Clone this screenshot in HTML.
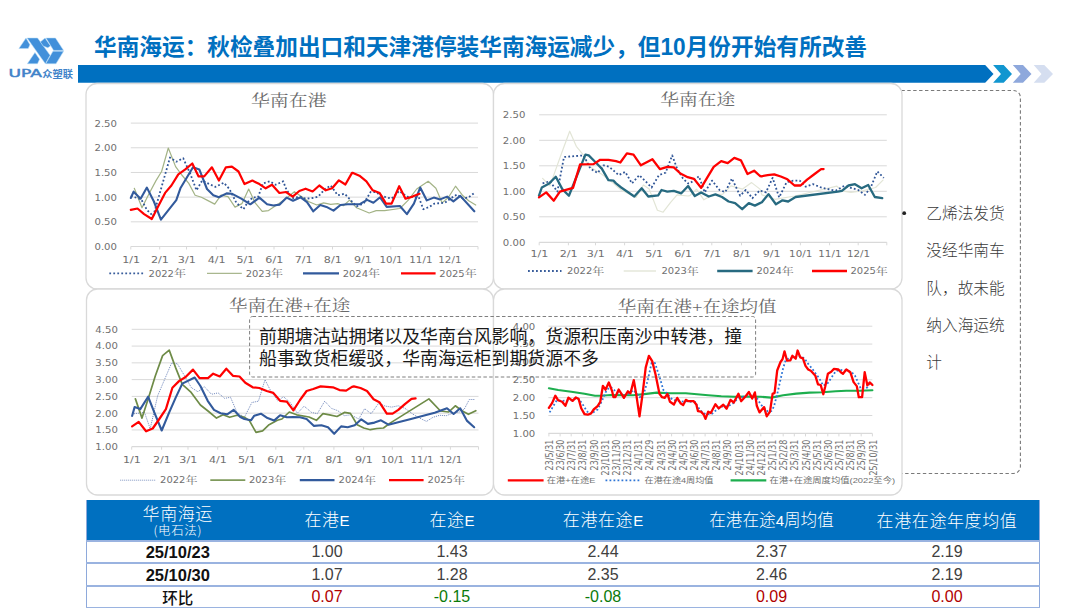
<!DOCTYPE html>
<html><head><meta charset="utf-8"><title>华南海运</title>
<style>
html,body{margin:0;padding:0;background:#fff}
body{width:1080px;height:608px;overflow:hidden;position:relative}
svg.main{position:absolute;left:0;top:0}
.t{position:absolute;left:86px;top:499.5px;width:952.5px;border-collapse:collapse;table-layout:fixed;font-family:'Liberation Sans','Noto Sans CJK SC',sans-serif;color:#404040;font-size:16px;text-align:center}
.t td{padding:0;height:20.9px;line-height:20px;border-bottom:2px solid #9AB3E0}
.t tr.h td{background:#0070C0;color:#fff;height:40px;border-bottom:2px solid #9AB3E0;font-family:'Noto Sans CJK SC',sans-serif;font-weight:300;font-size:17px;line-height:20px;letter-spacing:0.6px}
.t tr.h td .e{font-family:'Liberation Sans',sans-serif;font-size:15px;letter-spacing:0}
.t tr.h td.m4{letter-spacing:0;font-size:16.6px}
.t tr.h td .n{font-family:'Liberation Sans',sans-serif;font-size:15px;letter-spacing:0}
.t .h1{font-size:17px;line-height:18px;padding-top:1px}
.t .h2{font-size:12.5px;line-height:15px}
.t td.d{font-weight:bold;color:#111;font-size:16.5px}
.t tr.r3 td.d{font-family:'Noto Sans CJK SC',sans-serif;font-size:15.5px;font-weight:500}
.t tr.r3 td{height:19.9px}
.t td.r{color:#B00000}
.t td.g{color:#0A7A0A}
.t tr td:first-child{border-left:1.5px solid #8EA9DB}
.t tr td:last-child{border-right:1.5px solid #8EA9DB}
</style></head><body>
<svg class="main" width="1080" height="608" viewBox="0 0 1080 608">
<g transform="translate(16,34) scale(0.05263)"><polygon points="55,275 190,78 265,205 232,275" fill="#4290DA" stroke="#B8DDF7" stroke-width="10" stroke-linejoin="round"/><polygon points="210,76 410,76 648,405 558,565" fill="#4290DA" stroke="#B8DDF7" stroke-width="10" stroke-linejoin="round"/><polygon points="215,565 360,352 448,478 408,565" fill="#4290DA" stroke="#B8DDF7" stroke-width="10" stroke-linejoin="round"/><polygon points="462,150 552,78 655,226 605,262 519,230" fill="#4290DA" stroke="#B8DDF7" stroke-width="10" stroke-linejoin="round"/><polygon points="570,76 750,76 905,312 715,312" fill="#4290DA" stroke="#B8DDF7" stroke-width="10" stroke-linejoin="round"/><polygon points="565,565 702,328 905,328 760,565" fill="#4290DA" stroke="#B8DDF7" stroke-width="10" stroke-linejoin="round"/></g>
<text x="8.4" y="77.3" font-family="'DejaVu Sans',sans-serif" font-size="11" fill="#3F83C9" stroke="#3F83C9" stroke-width="0.45" textLength="33.5" lengthAdjust="spacingAndGlyphs">UPA</text>
<text x="42.3" y="77.6" font-family="'Noto Sans CJK SC',sans-serif" font-size="9.8" font-weight="bold" fill="#3F83C9" textLength="30.8" lengthAdjust="spacingAndGlyphs">众塑联</text>
<text x="94" y="54.5" font-family="'Liberation Sans','Noto Sans CJK SC',sans-serif" font-size="23" font-weight="bold" fill="#0070C0" textLength="773" lengthAdjust="spacingAndGlyphs">华南海运：秋检叠加出口和天津港停装华南海运减少，但10月份开始有所改善</text>
<polygon points="78,65 985.2,65 993.5,73.9 985.2,82.8 78,82.8" fill="#0070C0"/>
<polygon points="993.1,65 1003.7,65 1012,73.9 1003.7,82.8 993.1,82.8 1001,73.9" fill="#1196D0"/>
<polygon points="1012.8,65 1023,65 1031.5,73.9 1023,82.8 1012.8,82.8 1020.7,73.9" fill="#8EA8DC"/>
<polygon points="1033.7,65 1044.3,65 1053,73.9 1044.3,82.8 1033.7,82.8 1041.5,73.9" fill="#D5DEF0"/>
<rect x="800" y="90.5" width="220.4" height="383" rx="7" fill="none" stroke="#7A7A7A" stroke-width="1.1" stroke-dasharray="3.4,2.5"/>
<rect x="86.0" y="83.5" width="407.5" height="205.5" rx="11" fill="#fff" stroke="#D9D9D9" stroke-width="1.3"/>
<rect x="493.5" y="83.5" width="408.5" height="205.5" rx="11" fill="#fff" stroke="#D9D9D9" stroke-width="1.3"/>
<rect x="86.5" y="289.0" width="407.0" height="206.0" rx="11" fill="#fff" stroke="#D9D9D9" stroke-width="1.3"/>
<rect x="493.5" y="289.0" width="408.5" height="206.0" rx="11" fill="#fff" stroke="#D9D9D9" stroke-width="1.3"/>
<line x1="130.8" y1="221.82" x2="478.0" y2="221.82" stroke="#D9D9D9" stroke-width="1"/>
<line x1="130.8" y1="197.14" x2="478.0" y2="197.14" stroke="#D9D9D9" stroke-width="1"/>
<line x1="130.8" y1="172.46" x2="478.0" y2="172.46" stroke="#D9D9D9" stroke-width="1"/>
<line x1="130.8" y1="147.78" x2="478.0" y2="147.78" stroke="#D9D9D9" stroke-width="1"/>
<line x1="130.8" y1="123.10" x2="478.0" y2="123.10" stroke="#D9D9D9" stroke-width="1"/>
<line x1="130.8" y1="246.50" x2="478.0" y2="246.50" stroke="#D9D9D9" stroke-width="1.2"/>
<line x1="130.8" y1="246.50" x2="130.8" y2="249.50" stroke="#D9D9D9" stroke-width="1"/>
<line x1="159.7" y1="246.50" x2="159.7" y2="249.50" stroke="#D9D9D9" stroke-width="1"/>
<line x1="186.5" y1="246.50" x2="186.5" y2="249.50" stroke="#D9D9D9" stroke-width="1"/>
<line x1="216.3" y1="246.50" x2="216.3" y2="249.50" stroke="#D9D9D9" stroke-width="1"/>
<line x1="245.2" y1="246.50" x2="245.2" y2="249.50" stroke="#D9D9D9" stroke-width="1"/>
<line x1="274.0" y1="246.50" x2="274.0" y2="249.50" stroke="#D9D9D9" stroke-width="1"/>
<line x1="303.3" y1="246.50" x2="303.3" y2="249.50" stroke="#D9D9D9" stroke-width="1"/>
<line x1="332.5" y1="246.50" x2="332.5" y2="249.50" stroke="#D9D9D9" stroke-width="1"/>
<line x1="362.6" y1="246.50" x2="362.6" y2="249.50" stroke="#D9D9D9" stroke-width="1"/>
<line x1="390.8" y1="246.50" x2="390.8" y2="249.50" stroke="#D9D9D9" stroke-width="1"/>
<line x1="420.6" y1="246.50" x2="420.6" y2="249.50" stroke="#D9D9D9" stroke-width="1"/>
<line x1="449.6" y1="246.50" x2="449.6" y2="249.50" stroke="#D9D9D9" stroke-width="1"/>
<line x1="478.0" y1="246.50" x2="478.0" y2="249.50" stroke="#D9D9D9" stroke-width="1"/>
<text transform="translate(117.00,249.90) scale(1.090,1.000)" font-family="'DejaVu Sans','Noto Serif CJK SC',sans-serif" font-size="9.3" fill="#707070" text-anchor="end">0.00</text>
<text transform="translate(117.00,225.22) scale(1.090,1.000)" font-family="'DejaVu Sans','Noto Serif CJK SC',sans-serif" font-size="9.3" fill="#707070" text-anchor="end">0.50</text>
<text transform="translate(117.00,200.54) scale(1.090,1.000)" font-family="'DejaVu Sans','Noto Serif CJK SC',sans-serif" font-size="9.3" fill="#707070" text-anchor="end">1.00</text>
<text transform="translate(117.00,175.86) scale(1.090,1.000)" font-family="'DejaVu Sans','Noto Serif CJK SC',sans-serif" font-size="9.3" fill="#707070" text-anchor="end">1.50</text>
<text transform="translate(117.00,151.18) scale(1.090,1.000)" font-family="'DejaVu Sans','Noto Serif CJK SC',sans-serif" font-size="9.3" fill="#707070" text-anchor="end">2.00</text>
<text transform="translate(117.00,126.50) scale(1.090,1.000)" font-family="'DejaVu Sans','Noto Serif CJK SC',sans-serif" font-size="9.3" fill="#707070" text-anchor="end">2.50</text>
<text x="131.10" y="262.60" font-family="'DejaVu Sans','Noto Serif CJK SC',sans-serif" font-size="9.3" fill="#707070" text-anchor="middle" textLength="17.9" lengthAdjust="spacingAndGlyphs">1/1</text>
<text x="160.00" y="262.60" font-family="'DejaVu Sans','Noto Serif CJK SC',sans-serif" font-size="9.3" fill="#707070" text-anchor="middle" textLength="17.9" lengthAdjust="spacingAndGlyphs">2/1</text>
<text x="186.80" y="262.60" font-family="'DejaVu Sans','Noto Serif CJK SC',sans-serif" font-size="9.3" fill="#707070" text-anchor="middle" textLength="17.9" lengthAdjust="spacingAndGlyphs">3/1</text>
<text x="216.60" y="262.60" font-family="'DejaVu Sans','Noto Serif CJK SC',sans-serif" font-size="9.3" fill="#707070" text-anchor="middle" textLength="17.9" lengthAdjust="spacingAndGlyphs">4/1</text>
<text x="245.50" y="262.60" font-family="'DejaVu Sans','Noto Serif CJK SC',sans-serif" font-size="9.3" fill="#707070" text-anchor="middle" textLength="17.9" lengthAdjust="spacingAndGlyphs">5/1</text>
<text x="274.30" y="262.60" font-family="'DejaVu Sans','Noto Serif CJK SC',sans-serif" font-size="9.3" fill="#707070" text-anchor="middle" textLength="17.9" lengthAdjust="spacingAndGlyphs">6/1</text>
<text x="303.60" y="262.60" font-family="'DejaVu Sans','Noto Serif CJK SC',sans-serif" font-size="9.3" fill="#707070" text-anchor="middle" textLength="17.9" lengthAdjust="spacingAndGlyphs">7/1</text>
<text x="332.80" y="262.60" font-family="'DejaVu Sans','Noto Serif CJK SC',sans-serif" font-size="9.3" fill="#707070" text-anchor="middle" textLength="17.9" lengthAdjust="spacingAndGlyphs">8/1</text>
<text x="362.90" y="262.60" font-family="'DejaVu Sans','Noto Serif CJK SC',sans-serif" font-size="9.3" fill="#707070" text-anchor="middle" textLength="17.9" lengthAdjust="spacingAndGlyphs">9/1</text>
<text x="391.10" y="262.60" font-family="'DejaVu Sans','Noto Serif CJK SC',sans-serif" font-size="9.3" fill="#707070" text-anchor="middle" textLength="23.2" lengthAdjust="spacingAndGlyphs">10/1</text>
<text x="420.90" y="262.60" font-family="'DejaVu Sans','Noto Serif CJK SC',sans-serif" font-size="9.3" fill="#707070" text-anchor="middle" textLength="23.2" lengthAdjust="spacingAndGlyphs">11/1</text>
<text x="449.90" y="262.60" font-family="'DejaVu Sans','Noto Serif CJK SC',sans-serif" font-size="9.3" fill="#707070" text-anchor="middle" textLength="23.2" lengthAdjust="spacingAndGlyphs">12/1</text>
<text x="250.90" y="106.00" font-family="'Liberation Serif','Noto Serif CJK SC',serif" font-size="15.5" fill="#6A6A6A" textLength="75.7" lengthAdjust="spacingAndGlyphs">华南在港</text>
<line x1="109.3" y1="273.4" x2="143.6" y2="273.4" stroke="#3A5E9C" stroke-width="1.8" stroke-dasharray="1.8,2.2"/>
<text transform="translate(148.60,276.50) scale(1.16,1)" font-family="'DejaVu Sans','Noto Serif CJK SC',sans-serif" font-size="8.6" fill="#707070">2022<tspan font-family="'Liberation Serif','Noto Serif CJK SC',serif" font-size="10.4" dy="0.6">年</tspan></text>
<line x1="207.0" y1="273.4" x2="241.8" y2="273.4" stroke="#A9B78E" stroke-width="1.3"/>
<text transform="translate(245.70,276.50) scale(1.16,1)" font-family="'DejaVu Sans','Noto Serif CJK SC',sans-serif" font-size="8.6" fill="#707070">2023<tspan font-family="'Liberation Serif','Noto Serif CJK SC',serif" font-size="10.4" dy="0.6">年</tspan></text>
<line x1="303.0" y1="273.4" x2="339.0" y2="273.4" stroke="#325A9C" stroke-width="2.3"/>
<text transform="translate(342.70,276.50) scale(1.16,1)" font-family="'DejaVu Sans','Noto Serif CJK SC',sans-serif" font-size="8.6" fill="#707070">2024<tspan font-family="'Liberation Serif','Noto Serif CJK SC',serif" font-size="10.4" dy="0.6">年</tspan></text>
<line x1="401.0" y1="273.4" x2="435.6" y2="273.4" stroke="#FF0000" stroke-width="2.3"/>
<text transform="translate(439.30,276.50) scale(1.16,1)" font-family="'DejaVu Sans','Noto Serif CJK SC',sans-serif" font-size="8.6" fill="#707070">2025<tspan font-family="'Liberation Serif','Noto Serif CJK SC',serif" font-size="10.4" dy="0.6">年</tspan></text>
<polyline points="134.3,188.3 142.0,207.8 149.0,193.8 156.0,180.6 161.6,171.5 168.3,148.0 175.6,166.6 181.8,175.0 188.8,183.4 195.1,195.2 201.4,197.3 207.0,200.1 214.7,204.1 221.0,195.2 228.0,196.6 235.0,207.1 242.0,203.6 248.7,189.0 255.2,202.9 262.2,211.3 268.5,210.6 279.0,203.6 286.7,198.0 294.4,191.7 301.4,196.6 308.4,201.5 316.8,205.0 323.7,202.9 330.7,204.3 337.7,203.6 343.3,205.7 349.6,200.1 356.6,207.8 369.2,213.0 376.2,210.6 384.6,210.6 399.9,208.5 408.3,200.1 416.7,189.0 428.2,181.3 435.9,188.3 442.2,202.9 448.5,197.3 455.5,186.2 462.4,195.2 468.7,200.8 475.7,205.0" fill="none" stroke="#A3B386" stroke-width="1.2" stroke-linejoin="round" stroke-linecap="round"/>
<polyline points="130.8,195.9 141.3,199.4 146.9,209.9 153.2,216.2 170.0,157.5 176.3,161.7 183.2,158.2 190.2,173.6 196.5,190.3 202.1,180.6 215.4,186.9 223.8,182.7 229.4,189.0 236.4,202.9 243.4,209.2 248.3,201.5 253.1,197.3 258.0,197.3 262.9,183.4 269.9,181.3 275.5,184.8 283.2,181.3 286.7,190.3 293.0,198.0 300.0,196.6 305.6,198.7 312.6,198.0 318.2,196.6 325.1,189.0 330.7,185.5 337.7,195.2 344.7,193.8 356.6,206.4 363.6,203.6 370.6,192.0 375.5,192.0 380.4,195.2 386.0,197.3 391.6,198.7 399.2,191.0 406.9,196.6 413.9,197.3 418.8,197.3 423.3,209.2 428.9,207.1 434.5,203.6 439.4,203.2 445.0,202.7 450.6,198.5 456.9,194.5 463.1,198.7 468.7,197.3 475.0,192.4" fill="none" stroke="#2F5597" stroke-width="1.8" stroke-linejoin="round" stroke-linecap="butt" stroke-dasharray="1.8,2.2"/>
<polyline points="130.8,198.0 133.6,191.7 140.6,198.7 146.9,187.6 153.9,201.5 160.9,219.7 168.6,209.9 176.3,200.1 180.4,188.3 186.7,177.8 193.0,167.3 199.3,169.4 207.0,189.0 213.3,195.2 218.9,197.3 226.6,193.4 232.2,193.8 241.3,198.7 250.3,204.3 259.4,197.6 267.1,204.3 273.4,205.5 279.7,204.6 286.7,197.6 293.0,200.8 300.7,197.3 307.0,202.2 313.3,211.3 320.3,205.0 326.5,206.9 333.5,210.6 340.5,205.0 347.5,204.3 359.4,204.3 367.1,199.9 373.4,202.7 380.1,197.3 386.7,206.9 399.9,206.0 406.9,214.1 413.9,203.6 420.2,187.6 426.8,200.4 433.8,197.6 440.1,199.4 447.1,196.6 453.4,201.3 460.3,195.9 474.3,211.3" fill="none" stroke="#325A9C" stroke-width="2.1" stroke-linejoin="round" stroke-linecap="round"/>
<polyline points="130.8,209.9 137.5,208.5 144.1,214.1 151.8,219.0 158.1,206.4 165.1,192.9 171.4,185.5 178.3,174.3 185.3,169.4 192.3,163.5 198.6,176.4 204.2,176.4 211.9,167.3 218.9,180.6 225.9,167.3 231.9,166.6 238.5,171.5 244.5,184.1 252.4,180.6 259.4,184.1 265.7,188.3 272.0,184.8 279.4,193.0 286.0,192.0 292.7,196.6 299.3,191.0 305.6,188.7 312.6,191.5 319.3,185.5 325.8,190.3 332.1,188.3 338.9,180.3 345.4,184.5 352.0,172.9 353.1,172.9 359.4,175.7 366.4,181.3 372.7,190.3 379.7,193.1 386.0,203.6 391.6,203.6 399.2,186.2 405.5,198.7 412.5,196.6 419.5,193.8" fill="none" stroke="#FF0000" stroke-width="2.2" stroke-linejoin="round" stroke-linecap="round"/>
<line x1="539.2" y1="216.80" x2="886.8" y2="216.80" stroke="#D9D9D9" stroke-width="1"/>
<line x1="539.2" y1="191.30" x2="886.8" y2="191.30" stroke="#D9D9D9" stroke-width="1"/>
<line x1="539.2" y1="165.80" x2="886.8" y2="165.80" stroke="#D9D9D9" stroke-width="1"/>
<line x1="539.2" y1="140.30" x2="886.8" y2="140.30" stroke="#D9D9D9" stroke-width="1"/>
<line x1="539.2" y1="114.80" x2="886.8" y2="114.80" stroke="#D9D9D9" stroke-width="1"/>
<line x1="539.2" y1="242.30" x2="886.8" y2="242.30" stroke="#D9D9D9" stroke-width="1.2"/>
<line x1="539.2" y1="242.30" x2="539.2" y2="245.30" stroke="#D9D9D9" stroke-width="1"/>
<line x1="568.4" y1="242.30" x2="568.4" y2="245.30" stroke="#D9D9D9" stroke-width="1"/>
<line x1="595.5" y1="242.30" x2="595.5" y2="245.30" stroke="#D9D9D9" stroke-width="1"/>
<line x1="624.6" y1="242.30" x2="624.6" y2="245.30" stroke="#D9D9D9" stroke-width="1"/>
<line x1="653.8" y1="242.30" x2="653.8" y2="245.30" stroke="#D9D9D9" stroke-width="1"/>
<line x1="682.8" y1="242.30" x2="682.8" y2="245.30" stroke="#D9D9D9" stroke-width="1"/>
<line x1="711.8" y1="242.30" x2="711.8" y2="245.30" stroke="#D9D9D9" stroke-width="1"/>
<line x1="741.5" y1="242.30" x2="741.5" y2="245.30" stroke="#D9D9D9" stroke-width="1"/>
<line x1="771.3" y1="242.30" x2="771.3" y2="245.30" stroke="#D9D9D9" stroke-width="1"/>
<line x1="800.4" y1="242.30" x2="800.4" y2="245.30" stroke="#D9D9D9" stroke-width="1"/>
<line x1="829.6" y1="242.30" x2="829.6" y2="245.30" stroke="#D9D9D9" stroke-width="1"/>
<line x1="858.2" y1="242.30" x2="858.2" y2="245.30" stroke="#D9D9D9" stroke-width="1"/>
<line x1="886.8" y1="242.30" x2="886.8" y2="245.30" stroke="#D9D9D9" stroke-width="1"/>
<text transform="translate(525.40,245.70) scale(1.090,1.000)" font-family="'DejaVu Sans','Noto Serif CJK SC',sans-serif" font-size="9.3" fill="#707070" text-anchor="end">0.00</text>
<text transform="translate(525.40,220.20) scale(1.090,1.000)" font-family="'DejaVu Sans','Noto Serif CJK SC',sans-serif" font-size="9.3" fill="#707070" text-anchor="end">0.50</text>
<text transform="translate(525.40,194.70) scale(1.090,1.000)" font-family="'DejaVu Sans','Noto Serif CJK SC',sans-serif" font-size="9.3" fill="#707070" text-anchor="end">1.00</text>
<text transform="translate(525.40,169.20) scale(1.090,1.000)" font-family="'DejaVu Sans','Noto Serif CJK SC',sans-serif" font-size="9.3" fill="#707070" text-anchor="end">1.50</text>
<text transform="translate(525.40,143.70) scale(1.090,1.000)" font-family="'DejaVu Sans','Noto Serif CJK SC',sans-serif" font-size="9.3" fill="#707070" text-anchor="end">2.00</text>
<text transform="translate(525.40,118.20) scale(1.090,1.000)" font-family="'DejaVu Sans','Noto Serif CJK SC',sans-serif" font-size="9.3" fill="#707070" text-anchor="end">2.50</text>
<text x="539.50" y="257.40" font-family="'DejaVu Sans','Noto Serif CJK SC',sans-serif" font-size="9.3" fill="#707070" text-anchor="middle" textLength="17.9" lengthAdjust="spacingAndGlyphs">1/1</text>
<text x="568.70" y="257.40" font-family="'DejaVu Sans','Noto Serif CJK SC',sans-serif" font-size="9.3" fill="#707070" text-anchor="middle" textLength="17.9" lengthAdjust="spacingAndGlyphs">2/1</text>
<text x="595.80" y="257.40" font-family="'DejaVu Sans','Noto Serif CJK SC',sans-serif" font-size="9.3" fill="#707070" text-anchor="middle" textLength="17.9" lengthAdjust="spacingAndGlyphs">3/1</text>
<text x="624.90" y="257.40" font-family="'DejaVu Sans','Noto Serif CJK SC',sans-serif" font-size="9.3" fill="#707070" text-anchor="middle" textLength="17.9" lengthAdjust="spacingAndGlyphs">4/1</text>
<text x="654.10" y="257.40" font-family="'DejaVu Sans','Noto Serif CJK SC',sans-serif" font-size="9.3" fill="#707070" text-anchor="middle" textLength="17.9" lengthAdjust="spacingAndGlyphs">5/1</text>
<text x="683.10" y="257.40" font-family="'DejaVu Sans','Noto Serif CJK SC',sans-serif" font-size="9.3" fill="#707070" text-anchor="middle" textLength="17.9" lengthAdjust="spacingAndGlyphs">6/1</text>
<text x="712.10" y="257.40" font-family="'DejaVu Sans','Noto Serif CJK SC',sans-serif" font-size="9.3" fill="#707070" text-anchor="middle" textLength="17.9" lengthAdjust="spacingAndGlyphs">7/1</text>
<text x="741.80" y="257.40" font-family="'DejaVu Sans','Noto Serif CJK SC',sans-serif" font-size="9.3" fill="#707070" text-anchor="middle" textLength="17.9" lengthAdjust="spacingAndGlyphs">8/1</text>
<text x="771.60" y="257.40" font-family="'DejaVu Sans','Noto Serif CJK SC',sans-serif" font-size="9.3" fill="#707070" text-anchor="middle" textLength="17.9" lengthAdjust="spacingAndGlyphs">9/1</text>
<text x="800.70" y="257.40" font-family="'DejaVu Sans','Noto Serif CJK SC',sans-serif" font-size="9.3" fill="#707070" text-anchor="middle" textLength="23.2" lengthAdjust="spacingAndGlyphs">10/1</text>
<text x="829.90" y="257.40" font-family="'DejaVu Sans','Noto Serif CJK SC',sans-serif" font-size="9.3" fill="#707070" text-anchor="middle" textLength="23.2" lengthAdjust="spacingAndGlyphs">11/1</text>
<text x="858.50" y="257.40" font-family="'DejaVu Sans','Noto Serif CJK SC',sans-serif" font-size="9.3" fill="#707070" text-anchor="middle" textLength="23.2" lengthAdjust="spacingAndGlyphs">12/1</text>
<text x="660.30" y="105.20" font-family="'Liberation Serif','Noto Serif CJK SC',serif" font-size="15.5" fill="#6A6A6A" textLength="74.9" lengthAdjust="spacingAndGlyphs">华南在途</text>
<line x1="528.0" y1="271.0" x2="561.5" y2="271.0" stroke="#3A5E9C" stroke-width="1.8" stroke-dasharray="1.8,2.2"/>
<text transform="translate(566.90,274.10) scale(1.16,1)" font-family="'DejaVu Sans','Noto Serif CJK SC',sans-serif" font-size="8.6" fill="#707070">2022<tspan font-family="'Liberation Serif','Noto Serif CJK SC',serif" font-size="10.4" dy="0.6">年</tspan></text>
<line x1="623.7" y1="271.0" x2="656.0" y2="271.0" stroke="#E4E7DA" stroke-width="1.3"/>
<text transform="translate(661.50,274.10) scale(1.16,1)" font-family="'DejaVu Sans','Noto Serif CJK SC',sans-serif" font-size="8.6" fill="#707070">2023<tspan font-family="'Liberation Serif','Noto Serif CJK SC',serif" font-size="10.4" dy="0.6">年</tspan></text>
<line x1="717.2" y1="271.0" x2="752.6" y2="271.0" stroke="#276A80" stroke-width="2.3"/>
<text transform="translate(756.50,274.10) scale(1.16,1)" font-family="'DejaVu Sans','Noto Serif CJK SC',sans-serif" font-size="8.6" fill="#707070">2024<tspan font-family="'Liberation Serif','Noto Serif CJK SC',serif" font-size="10.4" dy="0.6">年</tspan></text>
<line x1="812.0" y1="271.0" x2="847.0" y2="271.0" stroke="#FF0000" stroke-width="2.3"/>
<text transform="translate(850.50,274.10) scale(1.16,1)" font-family="'DejaVu Sans','Noto Serif CJK SC',sans-serif" font-size="8.6" fill="#707070">2025<tspan font-family="'Liberation Serif','Noto Serif CJK SC',serif" font-size="10.4" dy="0.6">年</tspan></text>
<polyline points="542.6,178.4 550.0,185.8 555.8,169.4 562.3,151.3 569.7,131.2 576.3,146.3 583.7,155.4 588.7,166.1 601.8,174.3 613.4,183.4 621.2,190.0 636.0,197.4 643.4,185.0 649.2,189.1 657.4,210.2 663.1,212.2 670.6,202.3 677.1,194.9 688.0,196.0 689.9,195.7 696.5,189.1 703.9,199.8 712.1,194.9 722.8,194.1 731.0,185.8 742.6,189.1 751.6,182.6 760.0,189.1 761.9,194.9 775.0,199.3 794.8,196.0 836.9,186.2 841.9,190.8 850.9,192.4 862.4,190.8 875.6,187.5 883.0,180.1" fill="none" stroke="#E2E5D6" stroke-width="1.2" stroke-linejoin="round" stroke-linecap="round"/>
<polyline points="542.6,183.4 550.0,181.2 557.4,191.6 564.0,157.0 583.7,155.4 590.3,168.6 597.7,173.0 603.5,165.3 609.3,166.9 616.0,172.7 618.7,175.1 625.3,171.9 631.9,183.4 639.3,175.1 645.9,181.7 651.6,187.5 659.0,175.1 665.6,172.7 672.2,155.4 677.1,168.6 682.9,178.4 688.0,183.4 689.9,183.4 698.9,176.3 704.7,192.4 712.1,180.6 719.5,190.0 725.3,192.1 731.9,178.4 740.1,195.7 745.8,190.0 752.4,198.2 759.7,190.4 766.0,192.4 772.6,177.9 779.2,197.4 786.6,182.2 793.2,180.6 799.7,180.6 805.5,186.7 812.9,184.2 821.1,187.5 832.0,190.0 836.1,190.5 844.3,185.8 850.9,187.8 858.3,190.0 864.9,194.9 870.7,187.5 877.3,171.4 883.8,177.9" fill="none" stroke="#2F5597" stroke-width="1.8" stroke-linejoin="round" stroke-linecap="butt" stroke-dasharray="1.8,2.2"/>
<polyline points="539.0,195.7 541.8,187.5 549.2,183.4 555.8,176.8 562.3,189.1 568.9,195.7 585.4,154.6 588.7,155.4 595.3,162.0 601.8,168.6 608.4,180.1 613.4,180.6 616.0,183.4 621.2,187.5 634.3,196.5 641.7,188.3 648.3,196.5 658.2,195.4 661.5,190.0 667.3,191.6 673.8,190.8 681.3,193.3 688.1,186.0 694.8,196.0 701.1,192.4 708.8,196.5 715.4,194.4 722.0,197.0 728.6,201.5 735.1,203.1 742.2,209.2 748.8,203.1 754.9,205.6 760.0,203.1 761.9,202.3 768.5,194.1 775.9,204.3 782.5,200.3 788.2,201.5 795.6,197.0 837.8,191.6 841.9,190.8 848.5,185.5 855.0,184.2 861.6,188.3 868.2,185.0 874.8,197.0 882.2,198.2" fill="none" stroke="#276A80" stroke-width="2.3" stroke-linejoin="round" stroke-linecap="round"/>
<polyline points="539.0,197.4 546.2,192.4 553.8,200.7 559.9,191.6 573.0,187.8 580.1,164.4 593.6,164.1 600.2,159.8 608.4,159.8 616.0,161.2 620.3,162.5 626.9,153.3 633.5,154.6 640.9,165.3 652.4,159.2 659.9,169.1 667.3,166.9 673.8,167.4 680.4,173.5 687.7,177.2 694.0,178.9 701.1,187.8 707.2,177.6 713.7,166.9 721.2,161.2 727.7,163.1 734.3,157.9 740.9,160.3 747.5,174.0 754.1,170.7 760.0,176.0 761.5,176.3 767.6,175.1 774.2,174.3 780.8,176.5 787.4,179.3 794.5,185.5 800.6,185.5 807.1,179.6 814.6,174.0 821.1,169.1 823.6,169.1" fill="none" stroke="#FF0000" stroke-width="2.3" stroke-linejoin="round" stroke-linecap="round"/>
<line x1="131.7" y1="429.93" x2="478.5" y2="429.93" stroke="#D9D9D9" stroke-width="1"/>
<line x1="131.7" y1="413.16" x2="478.5" y2="413.16" stroke="#D9D9D9" stroke-width="1"/>
<line x1="131.7" y1="396.39" x2="478.5" y2="396.39" stroke="#D9D9D9" stroke-width="1"/>
<line x1="131.7" y1="379.62" x2="478.5" y2="379.62" stroke="#D9D9D9" stroke-width="1"/>
<line x1="131.7" y1="362.85" x2="478.5" y2="362.85" stroke="#D9D9D9" stroke-width="1"/>
<line x1="131.7" y1="346.08" x2="478.5" y2="346.08" stroke="#D9D9D9" stroke-width="1"/>
<line x1="131.7" y1="329.31" x2="478.5" y2="329.31" stroke="#D9D9D9" stroke-width="1"/>
<line x1="131.7" y1="446.70" x2="478.5" y2="446.70" stroke="#D9D9D9" stroke-width="1.2"/>
<line x1="131.7" y1="446.70" x2="131.7" y2="449.70" stroke="#D9D9D9" stroke-width="1"/>
<line x1="161.6" y1="446.70" x2="161.6" y2="449.70" stroke="#D9D9D9" stroke-width="1"/>
<line x1="188.0" y1="446.70" x2="188.0" y2="449.70" stroke="#D9D9D9" stroke-width="1"/>
<line x1="217.7" y1="446.70" x2="217.7" y2="449.70" stroke="#D9D9D9" stroke-width="1"/>
<line x1="246.6" y1="446.70" x2="246.6" y2="449.70" stroke="#D9D9D9" stroke-width="1"/>
<line x1="275.8" y1="446.70" x2="275.8" y2="449.70" stroke="#D9D9D9" stroke-width="1"/>
<line x1="303.8" y1="446.70" x2="303.8" y2="449.70" stroke="#D9D9D9" stroke-width="1"/>
<line x1="333.9" y1="446.70" x2="333.9" y2="449.70" stroke="#D9D9D9" stroke-width="1"/>
<line x1="363.6" y1="446.70" x2="363.6" y2="449.70" stroke="#D9D9D9" stroke-width="1"/>
<line x1="392.3" y1="446.70" x2="392.3" y2="449.70" stroke="#D9D9D9" stroke-width="1"/>
<line x1="421.7" y1="446.70" x2="421.7" y2="449.70" stroke="#D9D9D9" stroke-width="1"/>
<line x1="450.4" y1="446.70" x2="450.4" y2="449.70" stroke="#D9D9D9" stroke-width="1"/>
<line x1="478.5" y1="446.70" x2="478.5" y2="449.70" stroke="#D9D9D9" stroke-width="1"/>
<text transform="translate(117.90,450.10) scale(1.090,1.000)" font-family="'DejaVu Sans','Noto Serif CJK SC',sans-serif" font-size="9.3" fill="#707070" text-anchor="end">1.00</text>
<text transform="translate(117.90,433.33) scale(1.090,1.000)" font-family="'DejaVu Sans','Noto Serif CJK SC',sans-serif" font-size="9.3" fill="#707070" text-anchor="end">1.50</text>
<text transform="translate(117.90,416.56) scale(1.090,1.000)" font-family="'DejaVu Sans','Noto Serif CJK SC',sans-serif" font-size="9.3" fill="#707070" text-anchor="end">2.00</text>
<text transform="translate(117.90,399.79) scale(1.090,1.000)" font-family="'DejaVu Sans','Noto Serif CJK SC',sans-serif" font-size="9.3" fill="#707070" text-anchor="end">2.50</text>
<text transform="translate(117.90,383.02) scale(1.090,1.000)" font-family="'DejaVu Sans','Noto Serif CJK SC',sans-serif" font-size="9.3" fill="#707070" text-anchor="end">3.00</text>
<text transform="translate(117.90,366.25) scale(1.090,1.000)" font-family="'DejaVu Sans','Noto Serif CJK SC',sans-serif" font-size="9.3" fill="#707070" text-anchor="end">3.50</text>
<text transform="translate(117.90,349.48) scale(1.090,1.000)" font-family="'DejaVu Sans','Noto Serif CJK SC',sans-serif" font-size="9.3" fill="#707070" text-anchor="end">4.00</text>
<text transform="translate(117.90,332.71) scale(1.090,1.000)" font-family="'DejaVu Sans','Noto Serif CJK SC',sans-serif" font-size="9.3" fill="#707070" text-anchor="end">4.50</text>
<text x="132.00" y="462.80" font-family="'DejaVu Sans','Noto Serif CJK SC',sans-serif" font-size="9.3" fill="#707070" text-anchor="middle" textLength="17.9" lengthAdjust="spacingAndGlyphs">1/1</text>
<text x="161.90" y="462.80" font-family="'DejaVu Sans','Noto Serif CJK SC',sans-serif" font-size="9.3" fill="#707070" text-anchor="middle" textLength="17.9" lengthAdjust="spacingAndGlyphs">2/1</text>
<text x="188.30" y="462.80" font-family="'DejaVu Sans','Noto Serif CJK SC',sans-serif" font-size="9.3" fill="#707070" text-anchor="middle" textLength="17.9" lengthAdjust="spacingAndGlyphs">3/1</text>
<text x="218.00" y="462.80" font-family="'DejaVu Sans','Noto Serif CJK SC',sans-serif" font-size="9.3" fill="#707070" text-anchor="middle" textLength="17.9" lengthAdjust="spacingAndGlyphs">4/1</text>
<text x="246.90" y="462.80" font-family="'DejaVu Sans','Noto Serif CJK SC',sans-serif" font-size="9.3" fill="#707070" text-anchor="middle" textLength="17.9" lengthAdjust="spacingAndGlyphs">5/1</text>
<text x="276.10" y="462.80" font-family="'DejaVu Sans','Noto Serif CJK SC',sans-serif" font-size="9.3" fill="#707070" text-anchor="middle" textLength="17.9" lengthAdjust="spacingAndGlyphs">6/1</text>
<text x="304.10" y="462.80" font-family="'DejaVu Sans','Noto Serif CJK SC',sans-serif" font-size="9.3" fill="#707070" text-anchor="middle" textLength="17.9" lengthAdjust="spacingAndGlyphs">7/1</text>
<text x="334.20" y="462.80" font-family="'DejaVu Sans','Noto Serif CJK SC',sans-serif" font-size="9.3" fill="#707070" text-anchor="middle" textLength="17.9" lengthAdjust="spacingAndGlyphs">8/1</text>
<text x="363.90" y="462.80" font-family="'DejaVu Sans','Noto Serif CJK SC',sans-serif" font-size="9.3" fill="#707070" text-anchor="middle" textLength="17.9" lengthAdjust="spacingAndGlyphs">9/1</text>
<text x="392.60" y="462.80" font-family="'DejaVu Sans','Noto Serif CJK SC',sans-serif" font-size="9.3" fill="#707070" text-anchor="middle" textLength="23.2" lengthAdjust="spacingAndGlyphs">10/1</text>
<text x="422.00" y="462.80" font-family="'DejaVu Sans','Noto Serif CJK SC',sans-serif" font-size="9.3" fill="#707070" text-anchor="middle" textLength="23.2" lengthAdjust="spacingAndGlyphs">11/1</text>
<text x="450.70" y="462.80" font-family="'DejaVu Sans','Noto Serif CJK SC',sans-serif" font-size="9.3" fill="#707070" text-anchor="middle" textLength="23.2" lengthAdjust="spacingAndGlyphs">12/1</text>
<text x="228.90" y="311.00" font-family="'Liberation Serif','Noto Serif CJK SC',serif" font-size="15.5" fill="#6A6A6A" textLength="121.5" lengthAdjust="spacingAndGlyphs">华南在港+在途</text>
<line x1="120.2" y1="480.2" x2="156.2" y2="480.2" stroke="#7F95C0" stroke-width="1" stroke-dasharray="1,1"/>
<text transform="translate(160.10,483.30) scale(1.16,1)" font-family="'DejaVu Sans','Noto Serif CJK SC',sans-serif" font-size="8.6" fill="#707070">2022<tspan font-family="'Liberation Serif','Noto Serif CJK SC',serif" font-size="10.4" dy="0.6">年</tspan></text>
<line x1="210.3" y1="480.2" x2="245.3" y2="480.2" stroke="#7F9A5C" stroke-width="1.8"/>
<text transform="translate(248.90,483.30) scale(1.16,1)" font-family="'DejaVu Sans','Noto Serif CJK SC',sans-serif" font-size="8.6" fill="#707070">2023<tspan font-family="'Liberation Serif','Noto Serif CJK SC',serif" font-size="10.4" dy="0.6">年</tspan></text>
<line x1="299.8" y1="480.2" x2="334.5" y2="480.2" stroke="#325A9C" stroke-width="2.3"/>
<text transform="translate(338.60,483.30) scale(1.16,1)" font-family="'DejaVu Sans','Noto Serif CJK SC',sans-serif" font-size="8.6" fill="#707070">2024<tspan font-family="'Liberation Serif','Noto Serif CJK SC',serif" font-size="10.4" dy="0.6">年</tspan></text>
<line x1="389.0" y1="480.2" x2="423.6" y2="480.2" stroke="#FF0000" stroke-width="2.3"/>
<text transform="translate(427.60,483.30) scale(1.16,1)" font-family="'DejaVu Sans','Noto Serif CJK SC',sans-serif" font-size="8.6" fill="#707070">2025<tspan font-family="'Liberation Serif','Noto Serif CJK SC',serif" font-size="10.4" dy="0.6">年</tspan></text>
<polyline points="132.1,414.0 144.5,412.4 150.2,428.8 157.6,395.9 171.6,363.0 177.4,363.8 184.8,376.2 191.4,387.7 198.0,391.8 204.3,386.6 211.5,394.3 218.1,392.9 224.7,398.4 230.5,397.2 237.0,412.4 244.4,417.3 251.9,402.5 258.4,401.2 265.0,379.8 270.8,391.0 277.8,400.8 283.5,396.7 290.1,402.5 297.5,413.2 304.1,406.1 311.5,412.4 317.3,413.7 324.7,401.2 331.3,408.3 337.8,410.7 344.4,415.7 350.6,414.8 358.8,419.0 364.6,408.7 371.2,413.7 378.6,403.3 385.2,406.1 391.7,407.1 398.3,405.8 404.9,408.3 413.1,414.3 421.4,419.0 426.5,421.4 433.0,417.3 439.6,415.3 446.2,415.7 452.8,413.2 459.4,412.0 464.3,409.1 469.3,399.5 475.0,399.5" fill="none" stroke="#6F87BC" stroke-width="1" stroke-linejoin="round" stroke-linecap="butt" stroke-dasharray="1,1"/>
<polyline points="135.4,398.9 142.0,418.1 148.6,397.6 155.2,376.2 162.6,355.6 169.2,350.1 175.7,367.9 182.3,384.4 190.6,391.8 200.4,405.0 208.0,411.0 216.5,418.1 223.0,414.8 229.6,417.3 237.0,415.3 244.4,417.3 249.4,420.6 256.0,432.4 262.6,430.8 269.1,424.7 277.4,420.3 281.9,419.0 289.3,412.0 296.7,414.8 309.0,417.0 316.4,420.3 323.0,413.7 329.6,414.8 337.0,416.5 344.4,412.4 350.4,413.4 357.2,424.7 363.8,428.0 370.3,429.7 376.9,428.5 383.5,428.0 390.1,423.1 428.9,398.9 440.5,411.0 448.7,412.0 455.3,405.8 461.9,410.7 468.4,414.3 475.8,410.7" fill="none" stroke="#6E8B47" stroke-width="1.7" stroke-linejoin="round" stroke-linecap="round"/>
<polyline points="132.1,416.0 134.6,407.1 140.3,409.1 148.1,396.7 154.3,412.4 161.7,430.5 169.2,412.4 175.7,397.6 182.3,383.6 194.7,377.5 200.4,386.0 207.7,400.8 214.0,409.9 220.6,413.2 227.2,414.3 233.7,409.9 240.3,417.0 244.4,419.0 251.0,420.3 254.3,415.7 260.9,413.7 267.5,418.1 274.1,420.6 280.1,415.2 286.8,417.3 293.4,417.0 300.0,417.3 306.6,419.0 314.0,425.9 321.4,425.2 328.0,427.2 334.2,433.8 341.1,426.4 347.7,427.2 352.0,425.9 354.7,425.2 361.3,419.3 367.9,423.9 374.5,422.6 381.0,420.3 388.4,424.7 410.0,419.3 434.7,412.7 447.0,408.3 453.6,414.0 460.2,408.3 466.8,420.6 474.2,427.2" fill="none" stroke="#325A9C" stroke-width="2.1" stroke-linejoin="round" stroke-linecap="round"/>
<polyline points="132.1,426.4 138.7,421.9 146.1,431.3 152.7,428.5 159.3,419.0 165.9,409.1 172.4,387.7 179.0,381.1 185.6,377.0 193.0,369.6 199.6,378.1 208.0,378.1 213.2,373.7 219.8,376.5 226.3,368.7 232.9,375.8 239.5,376.5 245.3,382.7 252.7,387.3 259.3,388.0 266.7,391.0 273.3,392.9 280.1,400.8 286.8,401.7 293.4,410.4 300.0,400.0 306.6,391.0 313.2,389.0 320.6,386.4 332.9,387.3 339.5,390.1 346.1,390.6 352.0,386.9 353.9,386.4 360.5,388.0 367.0,391.0 373.6,399.2 379.4,402.2 386.8,413.7 392.6,413.7 398.3,409.9 404.9,404.1 411.5,398.9 415.6,398.4" fill="none" stroke="#FF0000" stroke-width="2.2" stroke-linejoin="round" stroke-linecap="round"/>
<line x1="548.4" y1="415.53" x2="872.3" y2="415.53" stroke="#D9D9D9" stroke-width="1"/>
<line x1="548.4" y1="397.67" x2="872.3" y2="397.67" stroke="#D9D9D9" stroke-width="1"/>
<line x1="548.4" y1="379.80" x2="872.3" y2="379.80" stroke="#D9D9D9" stroke-width="1"/>
<line x1="548.4" y1="361.94" x2="872.3" y2="361.94" stroke="#D9D9D9" stroke-width="1"/>
<line x1="548.4" y1="344.07" x2="872.3" y2="344.07" stroke="#D9D9D9" stroke-width="1"/>
<line x1="548.4" y1="326.21" x2="872.3" y2="326.21" stroke="#D9D9D9" stroke-width="1"/>
<line x1="548.4" y1="433.40" x2="872.3" y2="433.40" stroke="#D9D9D9" stroke-width="1.2"/>
<text transform="translate(535.30,436.80) scale(1.090,1.000)" font-family="'DejaVu Sans','Noto Serif CJK SC',sans-serif" font-size="9.3" fill="#707070" text-anchor="end">1.00</text>
<text transform="translate(535.30,418.93) scale(1.090,1.000)" font-family="'DejaVu Sans','Noto Serif CJK SC',sans-serif" font-size="9.3" fill="#707070" text-anchor="end">1.50</text>
<text transform="translate(535.30,401.07) scale(1.090,1.000)" font-family="'DejaVu Sans','Noto Serif CJK SC',sans-serif" font-size="9.3" fill="#707070" text-anchor="end">2.00</text>
<text transform="translate(535.30,383.20) scale(1.090,1.000)" font-family="'DejaVu Sans','Noto Serif CJK SC',sans-serif" font-size="9.3" fill="#707070" text-anchor="end">2.50</text>
<text transform="translate(535.30,365.34) scale(1.090,1.000)" font-family="'DejaVu Sans','Noto Serif CJK SC',sans-serif" font-size="9.3" fill="#707070" text-anchor="end">3.00</text>
<text transform="translate(535.30,347.47) scale(1.090,1.000)" font-family="'DejaVu Sans','Noto Serif CJK SC',sans-serif" font-size="9.3" fill="#707070" text-anchor="end">3.50</text>
<text transform="translate(535.30,329.61) scale(1.090,1.000)" font-family="'DejaVu Sans','Noto Serif CJK SC',sans-serif" font-size="9.3" fill="#707070" text-anchor="end">4.00</text>
<line x1="548.9" y1="433.40" x2="548.9" y2="436.40" stroke="#D9D9D9" stroke-width="1"/>
<text transform="translate(553.00,439.60) rotate(-90) scale(0.860,1.190)" font-family="'DejaVu Sans','Noto Serif CJK SC',sans-serif" font-size="9.3" fill="#707070" text-anchor="end">23/5/31</text>
<line x1="560.1" y1="433.40" x2="560.1" y2="436.40" stroke="#D9D9D9" stroke-width="1"/>
<text transform="translate(564.15,439.60) rotate(-90) scale(0.860,1.190)" font-family="'DejaVu Sans','Noto Serif CJK SC',sans-serif" font-size="9.3" fill="#707070" text-anchor="end">23/6/30</text>
<line x1="571.2" y1="433.40" x2="571.2" y2="436.40" stroke="#D9D9D9" stroke-width="1"/>
<text transform="translate(575.31,439.60) rotate(-90) scale(0.860,1.190)" font-family="'DejaVu Sans','Noto Serif CJK SC',sans-serif" font-size="9.3" fill="#707070" text-anchor="end">23/7/31</text>
<line x1="582.4" y1="433.40" x2="582.4" y2="436.40" stroke="#D9D9D9" stroke-width="1"/>
<text transform="translate(586.47,439.60) rotate(-90) scale(0.860,1.190)" font-family="'DejaVu Sans','Noto Serif CJK SC',sans-serif" font-size="9.3" fill="#707070" text-anchor="end">23/8/31</text>
<line x1="593.5" y1="433.40" x2="593.5" y2="436.40" stroke="#D9D9D9" stroke-width="1"/>
<text transform="translate(597.62,439.60) rotate(-90) scale(0.860,1.190)" font-family="'DejaVu Sans','Noto Serif CJK SC',sans-serif" font-size="9.3" fill="#707070" text-anchor="end">23/9/30</text>
<line x1="604.7" y1="433.40" x2="604.7" y2="436.40" stroke="#D9D9D9" stroke-width="1"/>
<text transform="translate(608.77,439.60) rotate(-90) scale(0.860,1.190)" font-family="'DejaVu Sans','Noto Serif CJK SC',sans-serif" font-size="9.3" fill="#707070" text-anchor="end">23/10/31</text>
<line x1="615.8" y1="433.40" x2="615.8" y2="436.40" stroke="#D9D9D9" stroke-width="1"/>
<text transform="translate(619.93,439.60) rotate(-90) scale(0.860,1.190)" font-family="'DejaVu Sans','Noto Serif CJK SC',sans-serif" font-size="9.3" fill="#707070" text-anchor="end">23/11/30</text>
<line x1="627.0" y1="433.40" x2="627.0" y2="436.40" stroke="#D9D9D9" stroke-width="1"/>
<text transform="translate(631.09,439.60) rotate(-90) scale(0.860,1.190)" font-family="'DejaVu Sans','Noto Serif CJK SC',sans-serif" font-size="9.3" fill="#707070" text-anchor="end">23/12/31</text>
<line x1="638.1" y1="433.40" x2="638.1" y2="436.40" stroke="#D9D9D9" stroke-width="1"/>
<text transform="translate(642.24,439.60) rotate(-90) scale(0.860,1.190)" font-family="'DejaVu Sans','Noto Serif CJK SC',sans-serif" font-size="9.3" fill="#707070" text-anchor="end">24/1/31</text>
<line x1="649.3" y1="433.40" x2="649.3" y2="436.40" stroke="#D9D9D9" stroke-width="1"/>
<text transform="translate(653.39,439.60) rotate(-90) scale(0.860,1.190)" font-family="'DejaVu Sans','Noto Serif CJK SC',sans-serif" font-size="9.3" fill="#707070" text-anchor="end">24/2/29</text>
<line x1="660.4" y1="433.40" x2="660.4" y2="436.40" stroke="#D9D9D9" stroke-width="1"/>
<text transform="translate(664.55,439.60) rotate(-90) scale(0.860,1.190)" font-family="'DejaVu Sans','Noto Serif CJK SC',sans-serif" font-size="9.3" fill="#707070" text-anchor="end">24/3/31</text>
<line x1="671.6" y1="433.40" x2="671.6" y2="436.40" stroke="#D9D9D9" stroke-width="1"/>
<text transform="translate(675.71,439.60) rotate(-90) scale(0.860,1.190)" font-family="'DejaVu Sans','Noto Serif CJK SC',sans-serif" font-size="9.3" fill="#707070" text-anchor="end">24/4/30</text>
<line x1="682.8" y1="433.40" x2="682.8" y2="436.40" stroke="#D9D9D9" stroke-width="1"/>
<text transform="translate(686.86,439.60) rotate(-90) scale(0.860,1.190)" font-family="'DejaVu Sans','Noto Serif CJK SC',sans-serif" font-size="9.3" fill="#707070" text-anchor="end">24/5/31</text>
<line x1="693.9" y1="433.40" x2="693.9" y2="436.40" stroke="#D9D9D9" stroke-width="1"/>
<text transform="translate(698.01,439.60) rotate(-90) scale(0.860,1.190)" font-family="'DejaVu Sans','Noto Serif CJK SC',sans-serif" font-size="9.3" fill="#707070" text-anchor="end">24/6/30</text>
<line x1="705.1" y1="433.40" x2="705.1" y2="436.40" stroke="#D9D9D9" stroke-width="1"/>
<text transform="translate(709.17,439.60) rotate(-90) scale(0.860,1.190)" font-family="'DejaVu Sans','Noto Serif CJK SC',sans-serif" font-size="9.3" fill="#707070" text-anchor="end">24/7/31</text>
<line x1="716.2" y1="433.40" x2="716.2" y2="436.40" stroke="#D9D9D9" stroke-width="1"/>
<text transform="translate(720.32,439.60) rotate(-90) scale(0.860,1.190)" font-family="'DejaVu Sans','Noto Serif CJK SC',sans-serif" font-size="9.3" fill="#707070" text-anchor="end">24/8/31</text>
<line x1="727.4" y1="433.40" x2="727.4" y2="436.40" stroke="#D9D9D9" stroke-width="1"/>
<text transform="translate(731.48,439.60) rotate(-90) scale(0.860,1.190)" font-family="'DejaVu Sans','Noto Serif CJK SC',sans-serif" font-size="9.3" fill="#707070" text-anchor="end">24/9/30</text>
<line x1="738.5" y1="433.40" x2="738.5" y2="436.40" stroke="#D9D9D9" stroke-width="1"/>
<text transform="translate(742.63,439.60) rotate(-90) scale(0.860,1.190)" font-family="'DejaVu Sans','Noto Serif CJK SC',sans-serif" font-size="9.3" fill="#707070" text-anchor="end">24/10/31</text>
<line x1="749.7" y1="433.40" x2="749.7" y2="436.40" stroke="#D9D9D9" stroke-width="1"/>
<text transform="translate(753.79,439.60) rotate(-90) scale(0.860,1.190)" font-family="'DejaVu Sans','Noto Serif CJK SC',sans-serif" font-size="9.3" fill="#707070" text-anchor="end">24/11/30</text>
<line x1="760.8" y1="433.40" x2="760.8" y2="436.40" stroke="#D9D9D9" stroke-width="1"/>
<text transform="translate(764.95,439.60) rotate(-90) scale(0.860,1.190)" font-family="'DejaVu Sans','Noto Serif CJK SC',sans-serif" font-size="9.3" fill="#707070" text-anchor="end">24/12/31</text>
<line x1="772.0" y1="433.40" x2="772.0" y2="436.40" stroke="#D9D9D9" stroke-width="1"/>
<text transform="translate(776.10,439.60) rotate(-90) scale(0.860,1.190)" font-family="'DejaVu Sans','Noto Serif CJK SC',sans-serif" font-size="9.3" fill="#707070" text-anchor="end">25/1/31</text>
<line x1="783.2" y1="433.40" x2="783.2" y2="436.40" stroke="#D9D9D9" stroke-width="1"/>
<text transform="translate(787.25,439.60) rotate(-90) scale(0.860,1.190)" font-family="'DejaVu Sans','Noto Serif CJK SC',sans-serif" font-size="9.3" fill="#707070" text-anchor="end">25/2/28</text>
<line x1="794.3" y1="433.40" x2="794.3" y2="436.40" stroke="#D9D9D9" stroke-width="1"/>
<text transform="translate(798.41,439.60) rotate(-90) scale(0.860,1.190)" font-family="'DejaVu Sans','Noto Serif CJK SC',sans-serif" font-size="9.3" fill="#707070" text-anchor="end">25/3/31</text>
<line x1="805.5" y1="433.40" x2="805.5" y2="436.40" stroke="#D9D9D9" stroke-width="1"/>
<text transform="translate(809.56,439.60) rotate(-90) scale(0.860,1.190)" font-family="'DejaVu Sans','Noto Serif CJK SC',sans-serif" font-size="9.3" fill="#707070" text-anchor="end">25/4/30</text>
<line x1="816.6" y1="433.40" x2="816.6" y2="436.40" stroke="#D9D9D9" stroke-width="1"/>
<text transform="translate(820.72,439.60) rotate(-90) scale(0.860,1.190)" font-family="'DejaVu Sans','Noto Serif CJK SC',sans-serif" font-size="9.3" fill="#707070" text-anchor="end">25/5/31</text>
<line x1="827.8" y1="433.40" x2="827.8" y2="436.40" stroke="#D9D9D9" stroke-width="1"/>
<text transform="translate(831.88,439.60) rotate(-90) scale(0.860,1.190)" font-family="'DejaVu Sans','Noto Serif CJK SC',sans-serif" font-size="9.3" fill="#707070" text-anchor="end">25/6/30</text>
<line x1="838.9" y1="433.40" x2="838.9" y2="436.40" stroke="#D9D9D9" stroke-width="1"/>
<text transform="translate(843.03,439.60) rotate(-90) scale(0.860,1.190)" font-family="'DejaVu Sans','Noto Serif CJK SC',sans-serif" font-size="9.3" fill="#707070" text-anchor="end">25/7/31</text>
<line x1="850.1" y1="433.40" x2="850.1" y2="436.40" stroke="#D9D9D9" stroke-width="1"/>
<text transform="translate(854.19,439.60) rotate(-90) scale(0.860,1.190)" font-family="'DejaVu Sans','Noto Serif CJK SC',sans-serif" font-size="9.3" fill="#707070" text-anchor="end">25/8/31</text>
<line x1="861.2" y1="433.40" x2="861.2" y2="436.40" stroke="#D9D9D9" stroke-width="1"/>
<text transform="translate(865.34,439.60) rotate(-90) scale(0.860,1.190)" font-family="'DejaVu Sans','Noto Serif CJK SC',sans-serif" font-size="9.3" fill="#707070" text-anchor="end">25/9/30</text>
<line x1="872.4" y1="433.40" x2="872.4" y2="436.40" stroke="#D9D9D9" stroke-width="1"/>
<text transform="translate(876.50,439.60) rotate(-90) scale(0.860,1.190)" font-family="'DejaVu Sans','Noto Serif CJK SC',sans-serif" font-size="9.3" fill="#707070" text-anchor="end">25/10/31</text>
<text x="617.70" y="312.00" font-family="'Liberation Serif','Noto Serif CJK SC',serif" font-size="15.5" fill="#6A6A6A" textLength="159.0" lengthAdjust="spacingAndGlyphs">华南在港+在途均值</text>
<line x1="507.8" y1="480.3" x2="543.6" y2="480.3" stroke="#FF0000" stroke-width="2.3"/>
<text x="546.80" y="483.20" font-family="'Liberation Sans','Noto Sans CJK SC',sans-serif" font-size="8" fill="#707070" textLength="48.5" lengthAdjust="spacingAndGlyphs">在港+在途E</text>
<line x1="605.5" y1="480.3" x2="640.0" y2="480.3" stroke="#2E75D6" stroke-width="1.8" stroke-dasharray="1.8,2.2"/>
<text x="644.50" y="483.20" font-family="'Liberation Sans','Noto Sans CJK SC',sans-serif" font-size="8" fill="#707070" textLength="69.0" lengthAdjust="spacingAndGlyphs">在港在途4周均值</text>
<line x1="730.6" y1="480.3" x2="766.3" y2="480.3" stroke="#1DAE4E" stroke-width="2.3"/>
<text x="769.60" y="483.20" font-family="'Liberation Sans','Noto Sans CJK SC',sans-serif" font-size="8" fill="#707070" textLength="125.5" lengthAdjust="spacingAndGlyphs">在港+在途周度均值(2022至今)</text>
<polyline points="548.9,388.2 558.2,390.0 571.3,391.7 584.5,393.7 595.0,395.7 601.6,395.7 610.8,395.0 633.2,395.3 646.3,393.9 656.8,392.6 670.0,393.3 685.8,393.3 708.2,395.3 721.3,396.3 734.5,396.8 747.6,396.6 760.8,396.8 771.3,397.6 783.2,395.3 796.3,393.6 809.5,392.6 822.6,392.2 835.8,391.3 846.3,390.7 859.5,390.7 872.4,390.3" fill="none" stroke="#1DAE4E" stroke-width="2.1" stroke-linejoin="round" stroke-linecap="round"/>
<polyline points="549.6,412.4 552.9,406.8 556.8,400.3 562.1,400.9 567.4,400.5 572.6,400.3 577.2,397.6 581.8,402.9 585.8,409.5 589.1,414.1 593.7,412.1 597.6,409.5 601.6,401.6 606.8,389.7 610.8,387.1 614.7,390.4 618.7,393.4 625.3,395.3 629.2,393.7 633.2,390.0 637.1,393.9 639.7,397.2 643.7,393.9 647.6,380.8 651.6,363.0 654.9,363.0 659.5,376.8 663.4,390.0 667.4,393.9 672.6,399.9 676.6,400.5 680.5,401.8 685.8,401.2 691.1,401.8 695.0,401.8 698.9,408.4 702.9,413.0 706.8,414.3 712.1,413.7 717.4,409.1 722.6,406.4 727.9,406.4 733.2,403.2 738.4,397.9 743.7,396.6 747.6,395.3 752.9,395.3 756.8,397.9 760.8,404.5 764.7,408.4 768.0,411.7 771.3,411.1 773.9,406.7 777.2,394.2 780.5,379.7 783.2,367.9 785.8,360.0 789.7,358.0 794.3,357.1 798.9,356.1 804.2,358.0 808.2,363.9 812.1,368.6 815.4,373.2 819.3,378.4 823.3,385.7 827.9,383.0 831.8,377.1 835.8,371.2 839.7,369.9 845.0,370.5 847.6,370.9 851.6,372.2 854.9,375.5 858.2,382.8 860.8,388.7 864.7,388.7 867.4,387.4 870.0,382.8 872.0,384.1" fill="none" stroke="#2E75D6" stroke-width="1.8" stroke-linejoin="round" stroke-linecap="butt" stroke-dasharray="1.8,2.2"/>
<polyline points="548.9,407.9 552.2,402.9 555.3,395.7 558.2,400.3 562.1,401.8 565.4,405.8 568.4,397.6 572.6,400.9 575.9,397.4 578.6,398.9 581.2,408.2 584.5,414.1 587.8,414.7 591.1,413.4 593.7,409.5 597.6,406.2 600.3,401.8 602.9,385.8 605.5,389.7 608.8,382.5 612.1,391.1 613.4,397.0 615.4,397.0 618.7,389.5 621.3,393.7 623.9,397.9 627.9,391.3 630.5,393.3 633.8,380.1 636.4,395.3 639.5,416.3 642.4,395.3 645.7,367.6 648.9,355.8 652.2,361.1 655.5,374.2 659.5,393.9 662.1,397.2 664.7,397.9 667.4,393.9 670.0,401.8 673.9,404.5 677.2,397.9 680.5,403.2 683.2,405.1 685.8,399.9 688.4,401.2 693.7,401.2 696.3,404.5 698.0,411.1 700.9,411.7 703.6,414.3 705.5,418.9 708.2,411.7 710.8,413.0 715.4,404.2 718.7,408.4 723.3,404.7 726.6,408.7 730.5,399.9 733.8,402.5 738.4,393.7 741.1,401.2 745.7,396.3 748.9,392.0 752.2,398.6 754.9,392.4 756.8,405.8 759.5,412.4 764.1,407.1 766.7,416.3 770.0,411.7 772.6,393.9 774.6,392.9 777.2,370.5 780.5,362.0 782.5,359.3 784.5,351.4 787.1,360.7 790.4,360.3 792.4,355.8 795.7,358.7 797.6,350.5 800.3,357.4 802.9,358.4 805.5,365.9 808.2,369.5 810.8,370.8 815.4,375.8 818.0,384.3 820.7,385.0 823.3,394.2 825.3,386.3 827.9,373.8 831.2,371.8 833.8,368.9 838.4,369.5 841.1,372.5 843.0,373.8 846.3,369.5 850.3,372.2 853.6,382.1 856.8,386.1 858.8,397.2 862.1,397.2 864.7,372.2 867.4,385.4 869.7,382.4 872.4,385.0" fill="none" stroke="#FF0000" stroke-width="2.3" stroke-linejoin="round" stroke-linecap="round"/>
<rect x="249.6" y="316.5" width="506" height="60.5" rx="3" fill="none" stroke="#7F7F7F" stroke-width="1" stroke-dasharray="3.5,2.3"/>
<text x="259" y="343.2" font-family="'Liberation Sans','Noto Sans CJK SC',sans-serif" font-size="17.9" fill="#1A1A1A">前期塘沽站拥堵以及华南台风影响，货源积压南沙中转港，撞</text>
<text x="259" y="365.2" font-family="'Liberation Sans','Noto Sans CJK SC',sans-serif" font-size="17.9" fill="#1A1A1A">船事致货柜缓驳，华南海运柜到期货源不多</text>
<circle cx="904.2" cy="213.2" r="1.9" fill="#222"/>
<text x="926.3" y="219.0" font-family="'Noto Sans CJK SC',sans-serif" font-size="15.7" font-weight="300" fill="#3A3A3A">乙烯法发货</text>
<text x="926.3" y="256.2" font-family="'Noto Sans CJK SC',sans-serif" font-size="15.7" font-weight="300" fill="#3A3A3A">没经华南车</text>
<text x="926.3" y="293.5" font-family="'Noto Sans CJK SC',sans-serif" font-size="15.7" font-weight="300" fill="#3A3A3A">队，故未能</text>
<text x="926.3" y="330.8" font-family="'Noto Sans CJK SC',sans-serif" font-size="15.7" font-weight="300" fill="#3A3A3A">纳入海运统</text>
<text x="926.3" y="368.0" font-family="'Noto Sans CJK SC',sans-serif" font-size="15.7" font-weight="300" fill="#3A3A3A">计</text>
</svg>
<table class="t">
<colgroup><col style="width:182px"><col style="width:117px"><col style="width:133px"><col style="width:169px"><col style="width:168px"><col style="width:183.5px"></colgroup>
<tr class="h"><td><div class="h1">华南海运</div><div class="h2">(电石法)</div></td><td>在港<span class="e">E</span></td><td>在途<span class="e">E</span></td><td>在港在途<span class="e">E</span></td><td class="m4">在港在途<span class="n">4</span>周均值</td><td>在港在途年度均值</td></tr>
<tr class="r1"><td class="d">25/10/23</td><td>1.00</td><td>1.43</td><td>2.44</td><td>2.37</td><td>2.19</td></tr>
<tr class="r2"><td class="d">25/10/30</td><td>1.07</td><td>1.28</td><td>2.35</td><td>2.46</td><td>2.19</td></tr>
<tr class="r3"><td class="d">环比</td><td class="r">0.07</td><td class="g">-0.15</td><td class="g">-0.08</td><td class="r">0.09</td><td class="r">0.00</td></tr>
</table>
</body></html>
